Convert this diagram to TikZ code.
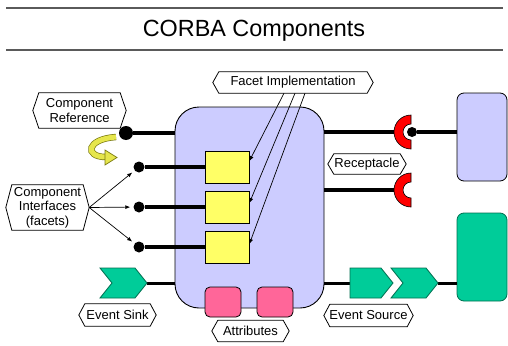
\documentclass[tikz,border=0pt]{standalone}
\usepackage{fontspec}
\setmainfont{Liberation Sans}
\usetikzlibrary{arrows.meta}

\definecolor{lav}{HTML}{CCCCFF}
\definecolor{facety}{HTML}{FFFF66}
\definecolor{attrpink}{HTML}{FF6699}
\definecolor{evgreen}{HTML}{00CC99}
\definecolor{evedge}{HTML}{006F50}
\definecolor{rulegray}{HTML}{5A5A5A}
\definecolor{curlfill}{HTML}{E6E64C}
\definecolor{curledge}{HTML}{7A7A10}
\definecolor{cupred}{HTML}{FF0000}

\begin{document}
\begin{tikzpicture}[x=1pt,y=-1pt,
  tag/.style={align=center, font=\fontsize{13}{14.5}\selectfont, inner sep=0pt,
    append after command={\pgfextra{\draw[line width=0.8pt, line join=miter]
      (\tikzlastnode.west) -- ([xshift=6pt]\tikzlastnode.north west)
      -- ([xshift=-6pt]\tikzlastnode.north east) -- (\tikzlastnode.east)
      -- ([xshift=-6pt]\tikzlastnode.south east) -- ([xshift=6pt]\tikzlastnode.south west)
      -- cycle;}}},
  facetbox/.style={draw, fill=facety, line width=0.8pt, minimum width=44pt, minimum height=32pt, inner sep=0pt},
  attrbox/.style={draw, fill=attrpink, line width=0.8pt, rounded corners=5pt, minimum width=36pt, minimum height=30pt, inner sep=0pt},
  peerbox/.style={draw, line width=0.8pt, rounded corners=7pt, minimum width=50pt, minimum height=88pt, inner sep=0pt},
  bigdot/.style={circle, fill=black, inner sep=0pt, minimum size=14pt},
  portdot/.style={circle, fill=black, inner sep=0pt, minimum size=11pt},
  wire/.style={line width=4pt},
  evwire/.style={line width=3pt},
  ptr/.style={line width=0.7pt, -{Latex[length=5pt,width=4pt]}},
  chev/.style={fill=evgreen, draw=evedge, line width=0.8pt, line join=miter},
  cup/.style={fill=cupred, draw=black, line width=0.6pt},
  rule/.style={draw=rulegray, line width=1.3pt}
]
\useasboundingbox (0,0) rectangle (508,345);

% title and rules
\draw[rule] (6,8) -- (503,8);
\draw[rule] (6,50) -- (503,50);
\node[font=\fontsize{23.4}{28}\selectfont] (title) at (254,31) {CORBA Components};

% component body
\node[draw, fill=lav, rounded corners=24pt, line width=0.9pt,
      minimum width=149pt, minimum height=201pt] (comp) at (249.5,207.5) {};

% facet implementations
\node[facetbox] (f1) at (227,167) {};
\node[facetbox] (f2) at (227,207) {};
\node[facetbox] (f3) at (227,247) {};

% attributes
\node[attrbox] (a1) at (223,302) {};
\node[attrbox] (a2) at (275,302) {};

% ports on the left
\node[bigdot] (refp) at (126,133) {};
\node[portdot] (p1) at (139,167) {};
\node[portdot] (p2) at (139,207) {};
\node[portdot] (p3) at (139,247) {};
\draw[wire] (refp) -- (refp -| comp.west);
\draw[wire] (p1) -- (f1);
\draw[wire] (p2) -- (f2);
\draw[wire] (p3) -- (f3);

% curled arrow under the component reference
\draw[draw=curledge, double=curlfill, double distance=5pt, line width=0.7pt]
  (116,137) .. controls (86,139) and (84,157) .. (106,157);
\filldraw[fill=curlfill, draw=curledge, line width=0.7pt, line join=miter]
  (105,150) -- (117,157.5) -- (105,165) -- cycle;

% peer components on the right
\node[peerbox, fill=lav] (peer) at (482,137) {};
\node[peerbox, fill=evgreen, draw=evedge] (sinkpeer) at (482,257) {};

% receptacles
\coordinate (cup1) at (411,132);
\coordinate (cup2) at (411,190);
\draw[wire] (comp.east |- cup1) -- ([xshift=-16pt]cup1);
\draw[wire] (comp.east |- cup2) -- ([xshift=-16pt]cup2);
\draw[cup] ([yshift=17pt]cup1) arc[start angle=90, end angle=270, radius=17pt]
  -- ([yshift=-8pt]cup1) arc[start angle=270, end angle=90, radius=8pt] -- cycle;
\draw[cup] ([yshift=17pt]cup2) arc[start angle=90, end angle=270, radius=17pt]
  -- ([yshift=-8pt]cup2) arc[start angle=270, end angle=90, radius=8pt] -- cycle;
\node[portdot, minimum size=10pt] (rp) at (412,132) {};
\draw[wire] (rp) -- (rp -| peer.west);

% event sink
\coordinate (sinktip) at (147,283);
\draw[evwire] (sinktip) -- (sinktip -| comp.west);
\draw[chev] (100,268) -- (135,268) -- (sinktip) -- (135,298) -- (100,298) -- (112,283) -- cycle;

% event source
\coordinate (srcin) at (350,283);
\coordinate (srctip) at (438,283);
\draw[evwire] (comp.east |- srcin) -- (srcin);
\draw[evwire] (srctip) -- (srctip -| sinkpeer.west);
\draw[chev] (350,268) -- (381,268) -- (393,283) -- (381,298) -- (350,298) -- cycle;
\draw[chev] (391,268) -- (426,268) -- (srctip) -- (426,298) -- (391,298) -- (403,283) -- cycle;

% callout labels
\node[tag, minimum width=160pt, minimum height=21pt] (facetlbl) at (293,82.5) {Facet Implementation};
\node[tag, minimum width=93pt, minimum height=35pt] (reflbl) at (79.5,110.5) {Component\\Reference};
\node[tag, minimum width=83pt, minimum height=45pt] (cilbl) at (47.5,207.5) {Component\\Interfaces\\(facets)};
\node[tag, minimum width=78pt, minimum height=20pt] (reclbl) at (367,164) {Receptacle};
\node[tag, minimum width=77pt, minimum height=22pt] (sinklbl) at (117.5,315) {Event Sink};
\node[tag, minimum width=89pt, minimum height=22pt] (srclbl) at (368.5,315.5) {Event Source};
\node[tag, minimum width=77pt, minimum height=21pt] (attrlbl) at (250.5,331) {Attributes};

% pointers
\draw[ptr] ([xshift=-9pt]facetlbl.south) -- ([yshift=6pt]f1.east);
\draw[ptr] ([xshift=2pt]facetlbl.south) -- ([yshift=4pt]f2.east);
\draw[ptr] ([xshift=12pt]facetlbl.south) -- ([yshift=3pt]f3.east);
\draw[ptr, shorten >=3pt] (cilbl.east) -- (p1);
\draw[ptr, shorten >=3pt] (cilbl.east) -- (p2);
\draw[ptr, shorten >=3pt] (cilbl.east) -- (p3);
\end{tikzpicture}
\end{document}
